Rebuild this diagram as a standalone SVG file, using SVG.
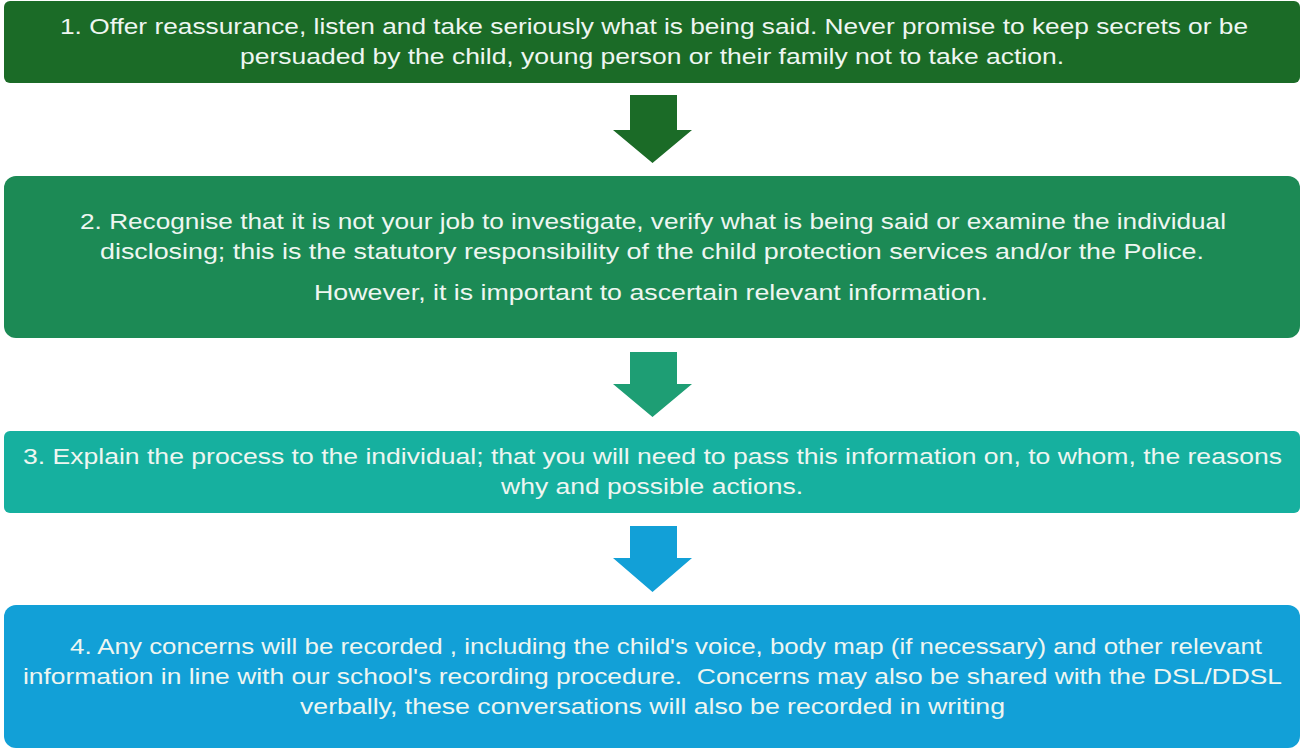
<svg xmlns="http://www.w3.org/2000/svg" width="1301" height="751" viewBox="0 0 1301 751">
<style>
text{font-family:"Liberation Sans",Arial,sans-serif;font-size:22.5px;fill:#EEF6F1;text-anchor:middle}
</style>
<rect width="1301" height="751" fill="#ffffff"/>
<g id="connectors">
<polygon points="630,95 677,95 677,130 692,130 652.5,163 613,130 630,130" fill="#1B6B27"/>
<polygon points="630,352 677,352 677,384 692,384 652.5,417 613,384 630,384" fill="#1E9E74"/>
<polygon points="630,526 677,526 677,558 692,558 652.5,592 613,558 630,558" fill="#12A0D7"/>
</g>
<g id="node1">
<rect x="4" y="1" width="1296" height="82" rx="6" fill="#1B6B27"/>
<text x="654" y="34" textLength="1188" lengthAdjust="spacingAndGlyphs">1. Offer reassurance, listen and take seriously what is being said. Never promise to keep secrets or be</text>
<text x="652" y="64" textLength="824" lengthAdjust="spacingAndGlyphs">persuaded by the child, young person or their family not to take action.</text>
</g>
<g id="node2">
<rect x="4" y="176" width="1296" height="162" rx="12" fill="#1C8A55"/>
<text x="653" y="229" textLength="1146" lengthAdjust="spacingAndGlyphs">2. Recognise that it is not your job to investigate, verify what is being said or examine the individual</text>
<text x="652" y="259" textLength="1104" lengthAdjust="spacingAndGlyphs">disclosing; this is the statutory responsibility of the child protection services and/or the Police.</text>
<text x="651" y="300" textLength="674" lengthAdjust="spacingAndGlyphs">However, it is important to ascertain relevant information.</text>
</g>
<g id="node3">
<rect x="4" y="431" width="1296" height="82" rx="6" fill="#16B09F"/>
<text x="652.5" y="464" textLength="1259" lengthAdjust="spacingAndGlyphs">3. Explain the process to the individual; that you will need to pass this information on, to whom, the reasons</text>
<text x="652" y="494" textLength="302" lengthAdjust="spacingAndGlyphs">why and possible actions.</text>
</g>
<g id="node4">
<rect x="4" y="605" width="1296" height="143" rx="12" fill="#12A0D7"/>
<text x="666" y="654" textLength="1192" lengthAdjust="spacingAndGlyphs">4. Any concerns will be recorded , including the child's voice, body map (if necessary) and other relevant</text>
<text x="652.5" y="684" textLength="1259" lengthAdjust="spacingAndGlyphs" xml:space="preserve">information in line with our school's recording procedure.  Concerns may also be shared with the DSL/DDSL</text>
<text x="652.5" y="714" textLength="705" lengthAdjust="spacingAndGlyphs">verbally, these conversations will also be recorded in writing</text>
</g>
</svg>
